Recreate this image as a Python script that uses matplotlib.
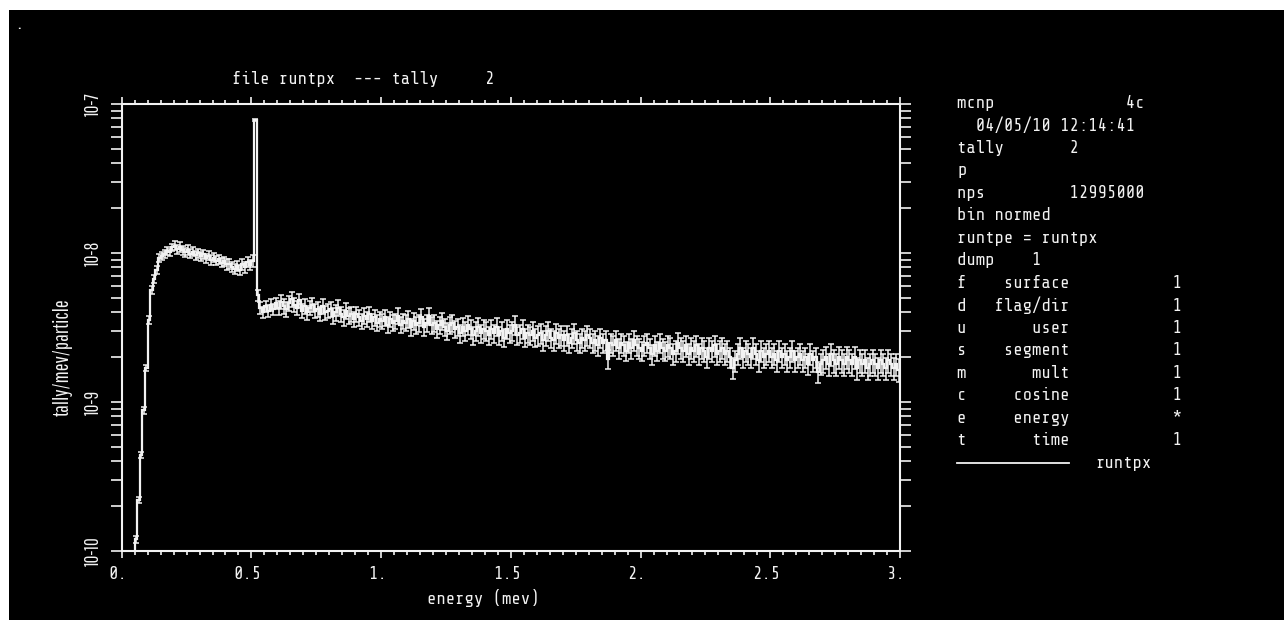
import numpy as np
import matplotlib
matplotlib.use("Agg")
import matplotlib.pyplot as plt
from matplotlib.patches import Rectangle
from matplotlib.lines import Line2D
from matplotlib.ticker import MultipleLocator, LogLocator, NullFormatter, FixedLocator
from matplotlib.transforms import ScaledTranslation

# ---------------- data ----------------
E_MIN, E_MAX = 0.0, 3.0          # energy range of the tally bins (MeV), 0.01 MeV bins
# tally per bin, in units of 1e-9 tally/mev/particle (0 = no score)
tally = [
    0, 0, 0, 0, 0,
    0.12, 0.22, 0.44, 0.88, 1.69, 3.55, 5.65, 6.7, 7.7, 9.26, 9.6,
    9.9, 10.3, 10.1, 10.9, 11.2, 10.6, 11.0, 10.4, 10.1, 10.5,
    9.9, 10.2, 9.7, 10.0, 9.5, 9.8, 9.2, 9.6, 9.0, 9.3,
    8.9, 9.1, 8.6, 8.8, 8.4, 8.5, 8.1, 7.8, 8.2, 7.7,
    8.4, 8.0, 8.7, 8.3, 8.9,
    78.0,
    5.2, 4.3, 4.0, 4.4, 4.1, 4.5, 4.2, 4.6,
    4.3, 4.7, 4.4, 4.2, 4.6, 4.9, 4.5, 4.3, 4.8, 4.1,
    4.4, 4.0, 4.3, 4.5, 4.1, 4.2, 3.9, 4.4, 4.0, 4.1,
    4.2, 3.8, 4.0, 4.3, 3.9, 3.7, 4.1, 3.8, 3.9, 3.6,
    3.9, 3.7, 3.5, 3.8, 3.6, 3.9, 3.5, 3.7, 3.4, 3.6,
    3.5, 3.7, 3.3, 3.6, 3.4, 3.5, 3.8, 3.3, 3.5, 3.4,
    3.6, 3.2, 3.5, 3.3, 3.4, 3.7, 3.2, 3.4, 3.8, 3.3,
    3.4, 3.1, 3.3, 3.5, 3.2, 3.0, 3.3, 3.4, 3.1, 3.2,
    2.9, 3.2, 3.0, 3.3, 3.1, 2.8, 3.0, 3.2, 2.9, 3.1,
    3.0, 2.8, 3.1, 2.9, 3.2, 2.8, 3.0, 2.7, 3.1, 2.9,
    3.0, 3.3, 2.8, 2.9, 3.1, 2.7, 2.9, 2.8, 3.0, 2.7,
    2.8, 2.9, 2.6, 2.8, 3.0, 2.7, 2.6, 2.9, 2.7, 2.8,
    2.6, 2.8, 2.5, 2.7, 2.9, 2.6, 2.5, 2.7, 2.6, 2.8,
    2.7, 2.5, 2.6, 2.4, 2.7, 2.5, 2.6, 1.95, 2.5, 2.4,
    2.6, 2.3, 2.5, 2.4, 2.2, 2.5, 2.3, 2.6, 2.4, 2.3,
    2.2, 2.4, 2.5, 2.3, 2.1, 2.4, 2.2, 2.5, 2.3, 2.2,
    2.4, 2.3, 2.1, 2.2, 2.5, 2.3, 2.2, 2.4, 2.1, 2.3,
    2.2, 2.4, 2.1, 2.3, 2.2, 2.0, 2.3, 2.2, 2.4, 2.1,
    2.2, 2.3, 2.1, 2.2, 2.0, 1.7, 1.9, 2.1, 2.3, 2.0,
    2.2, 2.1, 2.0, 2.3, 2.1, 1.9, 2.2, 2.0, 2.1, 2.2,
    2.0, 2.1, 1.9, 2.2, 2.0, 2.1, 1.9, 2.0, 2.2, 1.9,
    2.0, 2.1, 1.9, 2.0, 1.8, 2.1, 1.9, 2.0, 1.6, 1.8,
    1.9, 2.0, 1.8, 2.1, 1.9, 1.8, 2.0, 1.9, 1.8, 2.0,
    1.9, 1.8, 2.0, 1.7, 1.9, 1.8, 1.9, 1.7, 1.8, 1.9,
    1.8, 1.7, 1.9, 1.8, 1.7, 1.9, 1.8, 1.7, 1.8, 1.65,
]
# typical relative error (%) of the bins in each 0.1 MeV segment
rel_err_pct = [5, 6, 7, 7, 8, 9, 11, 11, 12, 12,
               12, 13, 13, 14, 14, 14, 15, 15, 15, 15,
               15, 16, 16, 16, 16, 16, 16, 17, 17, 17]
spike_rel_err_pct = 1            # the 0.511 MeV annihilation line bin is very precise

x_tick_values = [0.0, 0.5, 1.0, 1.5, 2.0, 2.5, 3.0]
x_tick_labels = ["0.", "0.5", "1.", "1.5", "2.", "2.5", "3."]
y_tick_values = [1e-10, 1e-9, 1e-8, 1e-7]
y_tick_labels = ["10-10", "10-9", "10-8", "10-7"]

title_text = "file runtpx  --- tally     2"
x_label = "energy (mev)"
y_label = "tally/mev/particle"
header_lines = ["mcnp              4c",
                "  04/05/10 12:14:41",
                "tally       2",
                "p",
                "nps         12995000",
                "bin normed",
                "runtpe = runtpx",
                "dump    1"]
bin_rows = [("f", "surface", "1"), ("d", "flag/dir", "1"), ("u", "user", "1"),
            ("s", "segment", "1"), ("m", "mult", "1"), ("c", "cosine", "1"),
            ("e", "energy", "*"), ("t", "time", "1")]
legend_label = "runtpx"

# ---------------- figure ----------------
W, H = 1284, 620
FG = "#f2f2f2"
MONO = ["Share Tech Mono", "DejaVu Sans Mono"]
COND = ["Pathway Gothic One", "DejaVu Sans"]

fig = plt.figure(figsize=(W / 100, H / 100), dpi=100, facecolor="white")
fig.patches.append(Rectangle((9 / W, 0), 1 - 9 / W, (H - 10) / H, transform=fig.transFigure,
                             facecolor="black", edgecolor="none", zorder=-10))
renderer = fig.canvas.get_renderer()


def fit_size(text, family, target_px, probe=20):
    t = fig.text(0, 0, text, fontsize=probe, family=family)
    w = t.get_window_extent(renderer=renderer).width
    t.remove()
    return probe * target_px / w


def fx(x):
    return x / W


def fy(y):
    return 1 - y / H


mono_fs = fit_size("0" * 20, MONO, 188)
ylab_fs = fit_size(y_label, COND, 117)
ytick_fs = fit_size("10-10", COND, 30)

x0, x1, y0, y1 = 121.7, 900.0, 104.0, 551.0
ax = fig.add_axes([fx(x0), fy(y1), (x1 - x0) / W, (y1 - y0) / H])
ax.set_facecolor("black")
ax.set_yscale("log")
ax.set_xlim(E_MIN, E_MAX)
ax.set_ylim(1e-10, 1e-7)

values = np.array(tally, dtype=float) * 1e-9
n = len(values)
edges = np.linspace(E_MIN, E_MAX, n + 1)
centers = 0.5 * (edges[:-1] + edges[1:])
rel = np.repeat(np.array(rel_err_pct, dtype=float) / 100.0, n // len(rel_err_pct))
rel[np.argmax(values)] = spike_rel_err_pct / 100.0

draw_vals = np.where(values > 0, values, 1e-14)  # zero bins drawn at the bottom
ax.stairs(draw_vals, edges, baseline=None, color=FG, lw=1.6, zorder=3)
m = values > 0
ax.errorbar(centers[m], values[m], yerr=values[m] * rel[m], fmt="none", ecolor=FG,
            elinewidth=1.1, capsize=2.2, capthick=1.1, zorder=3)

for s in ax.spines.values():
    s.set_color(FG)
    s.set_linewidth(1.5)

ax.xaxis.set_major_locator(FixedLocator(x_tick_values))
ax.set_xticklabels(x_tick_labels, family=MONO, fontsize=mono_fs, color=FG)
ax.xaxis.set_minor_locator(MultipleLocator(0.05))
ax.tick_params(axis="x", which="both", direction="out", top=True, bottom=True,
               color=FG, width=1.2)
ax.tick_params(axis="x", which="major", length=5.0, pad=6)
ax.tick_params(axis="x", which="minor", length=3.0)
for lbl in ax.get_xticklabels():
    lbl.set_transform(lbl.get_transform() + ScaledTranslation(-4 / 100, 0, fig.dpi_scale_trans))

ax.yaxis.set_major_locator(FixedLocator(y_tick_values))
ax.yaxis.set_minor_locator(LogLocator(base=10, subs=np.arange(2, 10)))
ax.yaxis.set_minor_formatter(NullFormatter())
ax.set_yticklabels(y_tick_labels, family=COND, fontsize=ytick_fs, color=FG,
                   rotation=90, va="center")
ax.tick_params(axis="y", which="both", direction="out", left=True, right=True,
               length=7.8, width=1.2, color=FG, pad=6)

# titles / labels
fig.text(fx(232), fy(79), title_text, family=MONO, fontsize=mono_fs, color=FG,
         ha="left", va="center")
fig.text(fx(427), fy(598), x_label, family=MONO, fontsize=mono_fs, color=FG,
         ha="left", va="center")
fig.text(fx(63), fy(357), y_label, family=COND, fontsize=ylab_fs, color=FG,
         rotation=90, ha="center", va="center")
fig.text(fx(19), fy(24), ".", family=MONO, fontsize=mono_fs, color=FG, ha="center", va="center")

# info panel
info_lines = header_lines + [f"{c}{name:>11}{val:>12}" for c, name, val in bin_rows]
line_step = 22.47
for i, line in enumerate(info_lines):
    fig.text(fx(957), fy(103 + i * line_step), line, family=MONO, fontsize=mono_fs,
             color=FG, ha="left", va="center")
y_leg = 103 + len(info_lines) * line_step
fig.add_artist(Line2D([fx(957), fx(1069)], [fy(y_leg), fy(y_leg)], transform=fig.transFigure,
                      color=FG, lw=1.3))
fig.text(fx(1095), fy(y_leg), legend_label, family=MONO, fontsize=mono_fs, color=FG,
         ha="left", va="center")

fig.savefig("out.png", dpi=100, facecolor="white")
